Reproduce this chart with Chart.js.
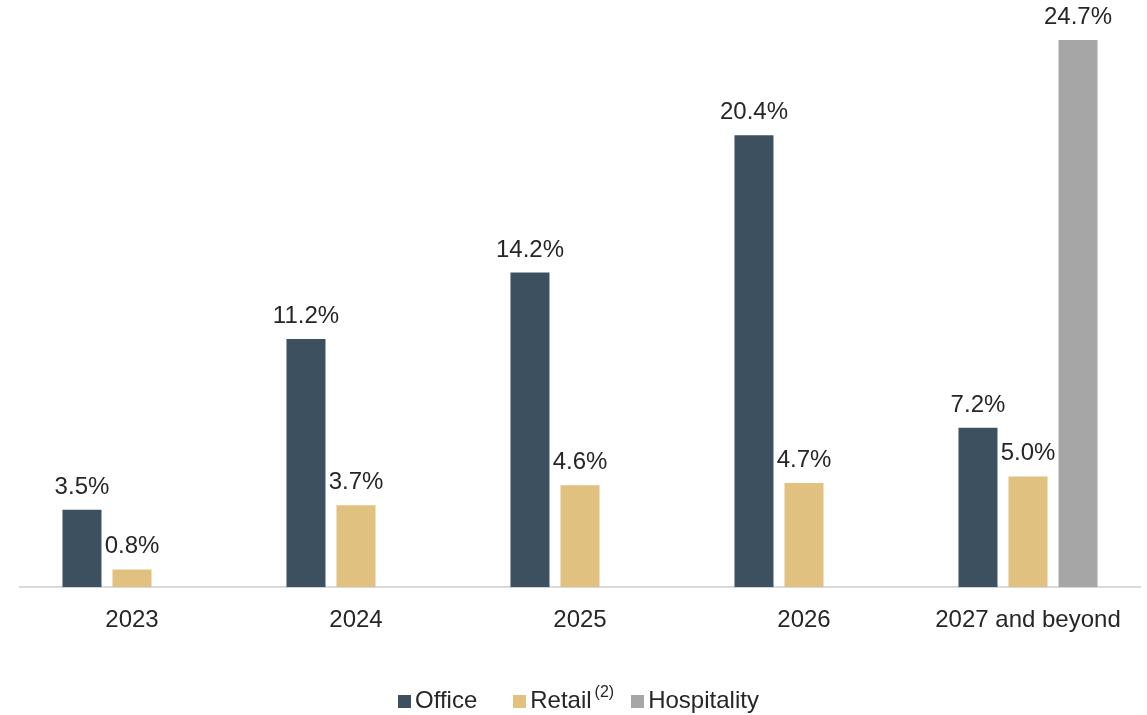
<!DOCTYPE html>
<html lang="en">
<head>
  <meta charset="UTF-8" />
  <title>Lease Expirations</title>
  <script src="https://cdn.jsdelivr.net/npm/chart.js"></script>
  <style>
    html, body { margin: 0; padding: 0; background: #fff; }
    #wrap { position: relative; width: 1147px; height: 715px; }
    #legend {
      position: absolute; left: 398px; top: 686px;
      display: flex; align-items: center;
      font-family: "Liberation Sans", Arial, sans-serif; font-size: 24px; color: #262626;
    }
    #legend .item { display: flex; align-items: center; }
    #legend .box { width: 13px; height: 13px; margin-right: 4px; margin-top: 2px; }
    #legend sup { font-size: 16px; position: relative; top: -8px; margin-left: 3px; }
  </style>
</head>
<body>
<div id="wrap">
  <canvas id="chart" width="1147" height="715"></canvas>
  <div id="legend">
    <div class="item"><span class="box" style="background:#3d5060"></span>Office</div>
    <div class="item" style="margin-left:36px"><span class="box" style="background:#e0c17f"></span>Retail<sup>(2)</sup></div>
    <div class="item" style="margin-left:17px"><span class="box" style="background:#a6a6a6"></span>Hospitality</div>
  </div>
</div>
<script>
  const years = ['2023', '2024', '2025', '2026', '2027 and beyond'];
  const office = [3.5, 11.2, 14.2, 20.4, 7.2];
  const retail = [0.8, 3.7, 4.6, 4.7, 5.0];
  const hospitality = [null, null, null, null, 24.7];

  const FONT = '"Liberation Sans", Arial, sans-serif';

  // percentage labels above each bar
  const valueLabels = {
    id: 'valueLabels',
    afterDatasetsDraw(chart) {
      const ctx = chart.ctx;
      ctx.save();
      ctx.font = '24px ' + FONT;
      ctx.fillStyle = '#262626';
      ctx.textAlign = 'center';
      ctx.textBaseline = 'alphabetic';
      chart.data.datasets.forEach((ds, i) => {
        chart.getDatasetMeta(i).data.forEach((bar, j) => {
          const v = ds.data[j];
          if (v == null) return;
          ctx.fillText(v.toFixed(1) + '%', bar.x, bar.y - 16);
        });
      });
      ctx.restore();
    }
  };

  new Chart(document.getElementById('chart'), {
    type: 'bar',
    data: {
      labels: years,
      datasets: [
        { label: 'Office', data: office, backgroundColor: '#3d5060' },
        { label: 'Retail', data: retail, backgroundColor: '#e0c17f' },
        { label: 'Hospitality', data: hospitality, backgroundColor: '#a6a6a6' }
      ]
    },
    options: {
      responsive: false,
      animation: false,
      layout: { padding: { left: 20, right: 7, top: 0, bottom: 69 } },
      categoryPercentage: 0.67,
      barPercentage: 0.78,
      plugins: {
        legend: { display: false },
        tooltip: { enabled: false }
      },
      scales: {
        x: {
          grid: { display: false },
          border: { display: true, color: '#d9d9d9', width: 2 },
          ticks: { color: '#262626', font: { family: FONT, size: 24 }, padding: 11 }
        },
        y: { display: false, min: 0, max: 26.5 }
      }
    },
    plugins: [valueLabels]
  });
</script>
</body>
</html>
